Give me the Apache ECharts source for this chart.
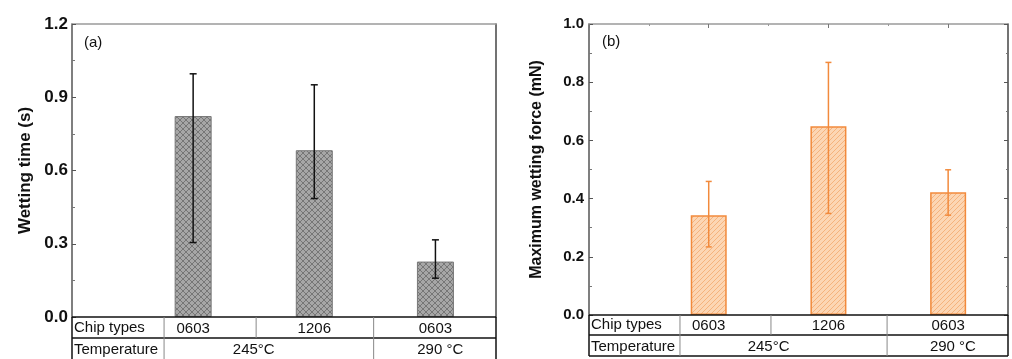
<!DOCTYPE html>
<html>
<head>
<meta charset="utf-8">
<script src="https://cdn.jsdelivr.net/npm/echarts@6/dist/echarts.min.js"></script>
<style>html,body{margin:0;padding:0;background:#fff}#c{width:1012px;height:359px}</style>
</head>
<body>
<div id="c"></div>
<script>
// ---- data ----
const barPositions = [1, 2, 3];
const chipTypes = ['0603', '1206', '0603'];
const temperatures = ['245°C', '290 °C'];
const temperatureCenters = [1.5, 3.04];
const tableColumnEdges = [0, 0.76, 1.52, 2.49, 3.5];
const rowLabels = ['Chip types', 'Temperature'];

const wettingTime = [0.823, 0.683, 0.227];
const wettingTimeLow = [0.305, 0.485, 0.159];
const wettingTimeHigh = [0.996, 0.951, 0.316];

const wettingForce = [0.343, 0.649, 0.422];
const wettingForceLow = [0.234, 0.349, 0.343];
const wettingForceHigh = [0.459, 0.868, 0.499];

// ---- patterns ----
function crossHatch() {
  const c = document.createElement('canvas'); c.width = 6; c.height = 6;
  const g = c.getContext('2d');
  g.fillStyle = '#a6a6a6'; g.fillRect(0, 0, 6, 6);
  g.strokeStyle = '#6a6a6a'; g.lineWidth = 0.8;
  g.beginPath();
  g.moveTo(0, 0); g.lineTo(6, 6);
  g.moveTo(0, 6); g.lineTo(6, 0);
  g.stroke();
  return c;
}
function diagHatch() {
  const c = document.createElement('canvas'); c.width = 5; c.height = 5;
  const g = c.getContext('2d');
  g.fillStyle = '#fcd6b4'; g.fillRect(0, 0, 5, 5);
  g.strokeStyle = '#f2aa6e'; g.lineWidth = 0.8;
  g.beginPath();
  g.moveTo(-1, 6); g.lineTo(6, -1);
  g.stroke();
  return c;
}

const FONT = 'Liberation Sans, Arial, sans-serif';
const chart = echarts.init(document.getElementById('c'));

function errRender(color, capHalf) {
  return function (params, api) {
    const x = api.value(0);
    const lo = api.coord([x, api.value(1)]);
    const hi = api.coord([x, api.value(2)]);
    const st = { stroke: color, lineWidth: 1.5 };
    return {
      type: 'group', children: [
        { type: 'line', shape: { x1: lo[0], y1: lo[1], x2: hi[0], y2: hi[1] }, style: st },
        { type: 'line', shape: { x1: hi[0] - capHalf, y1: hi[1], x2: hi[0] + capHalf, y2: hi[1] }, style: st },
        { type: 'line', shape: { x1: lo[0] - capHalf, y1: lo[1], x2: lo[0] + capHalf, y2: lo[1] }, style: st }
      ]
    };
  };
}

const fmt = v => v.toFixed(1);

chart.setOption({
  animation: false,
  textStyle: { fontFamily: FONT },
  grid: [
    { left: 72, top: 24, right: 516, bottom: 42 },
    { left: 589, top: 24, right: 4, bottom: 44 }
  ],
  xAxis: [
    { gridIndex: 0, type: 'value', min: 0, max: 3.5, position: 'bottom', axisLine: { show: false, onZero: false }, axisTick: { show: false }, axisLabel: { show: false }, splitLine: { show: false } },
    { gridIndex: 0, type: 'value', min: 0, max: 3.5, position: 'top', axisLine: { show: true, onZero: false, lineStyle: { color: '#9a9a9a', width: 1.5 } }, axisTick: { show: false }, axisLabel: { show: false }, splitLine: { show: false } },
    { gridIndex: 1, type: 'value', min: 0, max: 3.5, position: 'bottom', axisLine: { show: false, onZero: false }, axisTick: { show: false }, axisLabel: { show: false }, splitLine: { show: false } },
    { gridIndex: 1, type: 'value', min: 0, max: 3.5, interval: 1, position: 'top', axisLine: { show: true, onZero: false, lineStyle: { color: '#9a9a9a', width: 1.5 } },
      axisTick: { show: true, inside: true, length: 4, lineStyle: { color: '#777' } },
      minorTick: { show: true, splitNumber: 2, length: 2, lineStyle: { color: '#999' } },
      axisLabel: { show: false }, splitLine: { show: false } }
  ],
  yAxis: [
    { gridIndex: 0, type: 'value', min: 0, max: 1.2, interval: 0.3,
      name: 'Wetting time (s)', nameLocation: 'middle', nameGap: 38,
      nameTextStyle: { fontSize: 17, fontWeight: 'bold', color: '#111', fontFamily: FONT },
      axisLine: { show: true, onZero: false, lineStyle: { color: '#555', width: 1.5 } },
      axisTick: { show: true, inside: true, length: 4, lineStyle: { color: '#555' } },
      minorTick: { show: true, splitNumber: 2, length: 3, lineStyle: { color: '#777' } },
      axisLabel: { fontSize: 17, fontWeight: 'bold', color: '#111', margin: 4, formatter: fmt, fontFamily: FONT },
      splitLine: { show: false } },
    { gridIndex: 0, type: 'value', min: 0, max: 1.2, position: 'right',
      axisLine: { show: true, onZero: false, lineStyle: { color: '#444', width: 1.5 } }, axisTick: { show: false }, axisLabel: { show: false }, splitLine: { show: false } },
    { gridIndex: 1, type: 'value', min: 0, max: 1.0, interval: 0.2,
      name: 'Maximum wetting force (mN)', nameLocation: 'middle', nameGap: 44,
      nameTextStyle: { fontSize: 16, fontWeight: 'bold', color: '#111', fontFamily: FONT },
      axisLine: { show: true, onZero: false, lineStyle: { color: '#555', width: 1.5 } },
      axisTick: { show: true, inside: true, length: 4, lineStyle: { color: '#555' } },
      minorTick: { show: true, splitNumber: 2, length: 3, lineStyle: { color: '#777' } },
      axisLabel: { fontSize: 15, fontWeight: 'bold', color: '#111', margin: 5, formatter: fmt, fontFamily: FONT },
      splitLine: { show: false } },
    { gridIndex: 1, type: 'value', min: 0, max: 1.0, interval: 0.2, position: 'right',
      axisLine: { show: true, onZero: false, lineStyle: { color: '#444', width: 1.5 } },
      axisTick: { show: true, inside: true, length: 4, lineStyle: { color: '#555' } },
      minorTick: { show: true, splitNumber: 2, length: 2, lineStyle: { color: '#777' } },
      axisLabel: { show: false }, splitLine: { show: false } }
  ],
  series: [
    { type: 'bar', xAxisIndex: 0, yAxisIndex: 0, barWidth: 37,
      data: barPositions.map((x, i) => [x, wettingTime[i]]),
      itemStyle: { color: { image: crossHatch(), repetition: 'repeat' }, borderColor: '#777', borderWidth: 1 } },
    { type: 'custom', xAxisIndex: 0, yAxisIndex: 0, z: 5,
      renderItem: errRender('#111', 3.5), encode: { x: 0, y: [1, 2] },
      data: barPositions.map((x, i) => [x, wettingTimeLow[i], wettingTimeHigh[i]]) },
    { type: 'bar', xAxisIndex: 2, yAxisIndex: 2, barWidth: 36,
      data: barPositions.map((x, i) => [x, wettingForce[i]]),
      itemStyle: { color: { image: diagHatch(), repetition: 'repeat' }, borderColor: '#f28a3c', borderWidth: 1.5 } },
    { type: 'custom', xAxisIndex: 2, yAxisIndex: 2, z: 5,
      renderItem: errRender('#f28a3c', 3), encode: { x: 0, y: [1, 2] },
      data: barPositions.map((x, i) => [x, wettingForceLow[i], wettingForceHigh[i]]) }
  ]
});

// ---- table under each chart + panel labels ----
function buildTable(gridIndex, rowH) {
  const els = [];
  const px = v => chart.convertToPixel({ gridIndex: gridIndex }, [v, 0]);
  const x0 = px(tableColumnEdges[0])[0];
  const x4 = px(tableColumnEdges[4])[0];
  const yTop = px(0)[1];
  const yMid = yTop + rowH[0];
  const yBot = yMid + rowH[1];
  const black = { stroke: '#111', lineWidth: 1.5 };
  const grey = { stroke: '#888', lineWidth: 1 };
  const L = (x1, y1, x2, y2, s) => els.push({ type: 'line', shape: { x1, y1, x2, y2 }, style: s, z: 10 });
  L(x0, yTop, x4, yTop, black);
  L(x0, yMid, x4, yMid, black);
  L(x0, yBot, x4, yBot, black);
  L(x0, yTop, x0, yBot, black);
  L(x4, yTop, x4, yBot, black);
  [1, 2, 3].forEach(k => { const x = px(tableColumnEdges[k])[0]; L(x, yTop, x, yMid, grey); });
  [1, 3].forEach(k => { const x = px(tableColumnEdges[k])[0]; L(x, yMid, x, yBot, grey); });
  const T = (text, x, y, align) => els.push({ type: 'text', x, y, z: 10,
    style: { text, fill: '#111', font: '15px ' + FONT, textAlign: align, textVerticalAlign: 'middle' } });
  T(rowLabels[0], x0 + 2, yTop + rowH[0] / 2, 'left');
  T(rowLabels[1], x0 + 2, yMid + rowH[1] / 2 + 1, 'left');
  chipTypes.forEach((t, i) => T(t, px(barPositions[i])[0], yTop + rowH[0] / 2 + 1, 'center'));
  temperatures.forEach((t, i) => T(t, px(temperatureCenters[i])[0], yMid + rowH[1] / 2 + 1, 'center'));
  return els;
}

const g0 = chart.convertToPixel({ gridIndex: 0 }, [0, 1.2]);
const g1 = chart.convertToPixel({ gridIndex: 1 }, [0, 1.0]);
const graphics = [].concat(buildTable(0, [21, 22]), buildTable(1, [20, 21]));
graphics.push({ type: 'text', x: g0[0] + 12, y: g0[1] + 19, z: 10, style: { text: '(a)', fill: '#111', font: '15px ' + FONT, textVerticalAlign: 'middle' } });
graphics.push({ type: 'text', x: g1[0] + 13, y: g1[1] + 18, z: 10, style: { text: '(b)', fill: '#111', font: '15px ' + FONT, textVerticalAlign: 'middle' } });
chart.setOption({ graphic: graphics });
</script>
</body>
</html>
